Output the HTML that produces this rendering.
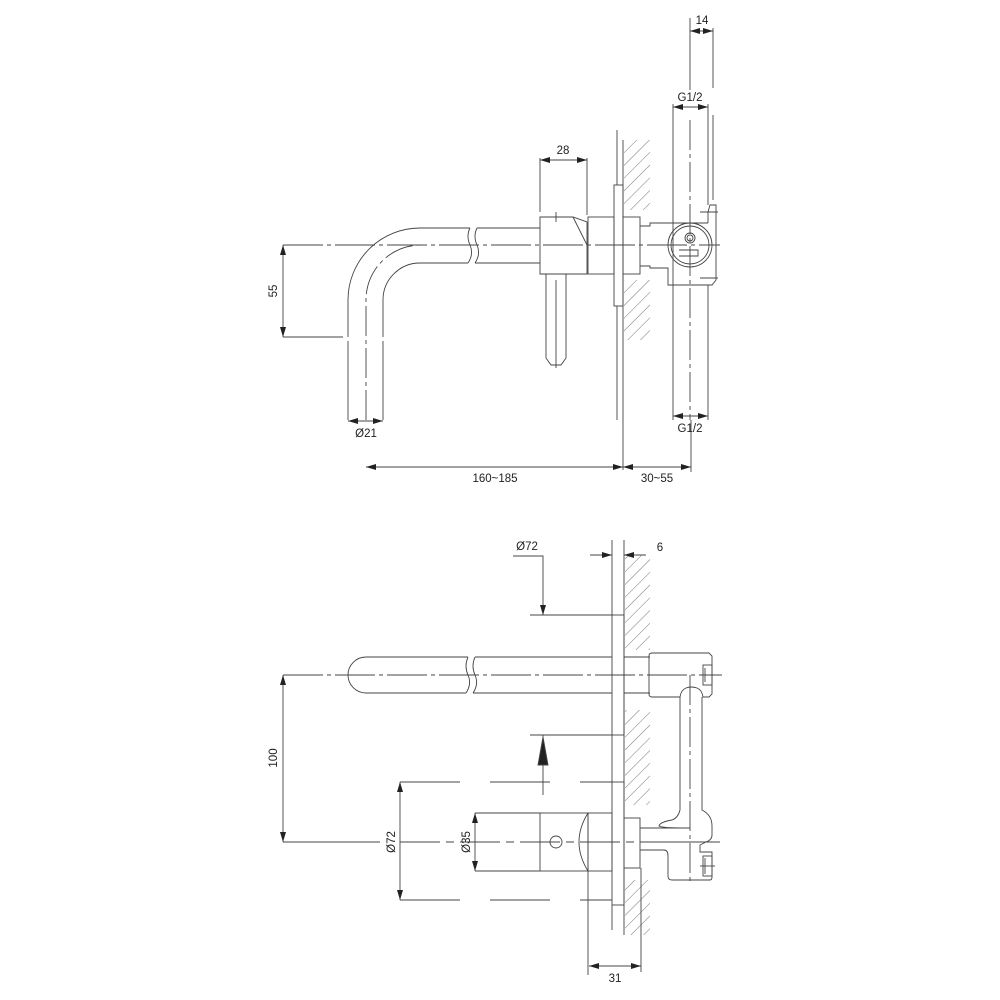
<!DOCTYPE html>
<html><head><meta charset="utf-8"><style>
html,body{margin:0;padding:0;background:#fff;}
svg{display:block}
text{font-family:"Liberation Sans",sans-serif;font-size:11.5px;fill:#222;}
</style></head><body>
<svg width="1000" height="1000" viewBox="0 0 1000 1000" xmlns="http://www.w3.org/2000/svg">
<defs>
<marker id="a" viewBox="0 0 10 6" refX="10" refY="3" markerWidth="10" markerHeight="6" orient="auto-start-reverse" markerUnits="userSpaceOnUse"><path d="M0,0L10,3L0,6z" fill="#222"/></marker>
<pattern id="h" width="9" height="9" patternUnits="userSpaceOnUse" patternTransform="rotate(45)"><line x1="0" y1="0" x2="0" y2="9" stroke="#555" stroke-width="0.8"/></pattern>
</defs>
<g fill="none" stroke="#444" stroke-width="0.9">
<!-- ===== TOP VIEW ===== -->
<rect x="624" y="140" width="26" height="70" fill="url(#h)" stroke="none"/>
<rect x="624" y="280" width="26" height="60" fill="url(#h)" stroke="none"/>
<line x1="623" y1="140" x2="623" y2="470"/>
<line x1="617" y1="130" x2="617" y2="185"/>
<line x1="617" y1="306" x2="617" y2="420"/>
<line x1="283" y1="245" x2="720" y2="245" stroke-dasharray="40,4,4,4"/>
<path d="M348,337 L348,300 A72,72 0 0 1 420,228 L470,228"/>
<path d="M383,337 L383,300 A37,37 0 0 1 420,263 L468,263"/>
<path d="M470,228 q-4,8 0,17 q4,9 -2,18"/>
<path d="M477,228 q-4,8 0,17 q4,9 -2,18"/>
<line x1="477" y1="228" x2="540" y2="228"/>
<line x1="475" y1="263" x2="540" y2="263"/>
<path d="M366,420 L366,300 A55,55 0 0 1 421,245" stroke-dasharray="30,4,4,4"/>
<line x1="348" y1="341" x2="348" y2="420"/>
<line x1="383" y1="341" x2="383" y2="420"/>
<path d="M540,217 L573,217 L587,222 L587,274 L540,274 Z"/>
<line x1="573" y1="217" x2="587" y2="245"/>
<line x1="556" y1="212" x2="556" y2="222"/>
<path d="M546,274 L546,358 L551,365 L561,365 L566,358 L566,274"/>
<line x1="556" y1="280" x2="556" y2="368"/>
<rect x="588" y="217" width="26" height="57"/>
<rect x="614" y="185" width="9" height="121"/>
<rect x="623" y="217" width="17" height="57"/>
<path d="M640,226 L650,226 L650,223 L708,223"/>
<path d="M640,266 L650,266 L650,268 L668,268 L668,285 L712,285 L716,280 L716,205 L710,205 L708,212 L708,223"/>
<circle cx="690" cy="245" r="22"/>
<circle cx="690" cy="245" r="19"/>
<circle cx="690" cy="238" r="5"/>
<circle cx="690" cy="238" r="3"/>
<path d="M679,250 L698,250 L698,256 L679,256"/>
<line x1="673" y1="104" x2="673" y2="420"/>
<line x1="708" y1="104" x2="708" y2="205"/>
<line x1="708" y1="285" x2="708" y2="420"/>
<line x1="690" y1="18" x2="690" y2="90"/>
<line x1="713" y1="28" x2="713" y2="88"/>
<line x1="713" y1="115" x2="713" y2="200"/>
<line x1="690" y1="120" x2="690" y2="420" stroke-dasharray="30,4,4,4"/>
<line x1="700" y1="212" x2="718" y2="212"/>
<line x1="700" y1="278" x2="718" y2="278"/>
<line x1="283" y1="337" x2="343" y2="337"/>
<line x1="283" y1="245" x2="283" y2="337" marker-start="url(#a)" marker-end="url(#a)"/>
<line x1="348" y1="421" x2="383" y2="421" marker-start="url(#a)" marker-end="url(#a)"/>
<line x1="366" y1="467" x2="623" y2="467" marker-start="url(#a)" marker-end="url(#a)"/>
<line x1="623" y1="467" x2="691" y2="467" marker-start="url(#a)" marker-end="url(#a)"/>
<line x1="691" y1="420" x2="691" y2="472"/>
<line x1="540" y1="158" x2="540" y2="212"/>
<line x1="587" y1="158" x2="587" y2="215"/>
<line x1="540" y1="160" x2="587" y2="160" marker-start="url(#a)" marker-end="url(#a)"/>
<line x1="673" y1="107" x2="708" y2="107" marker-start="url(#a)" marker-end="url(#a)"/>
<line x1="673" y1="416" x2="708" y2="416" marker-start="url(#a)" marker-end="url(#a)"/>
<line x1="690" y1="31" x2="713" y2="31" marker-start="url(#a)" marker-end="url(#a)"/>

<!-- ===== BOTTOM VIEW ===== -->
<rect x="625" y="555" width="25" height="95" fill="url(#h)" stroke="none"/>
<rect x="625" y="710" width="25" height="95" fill="url(#h)" stroke="none"/>
<rect x="625" y="880" width="25" height="55" fill="url(#h)" stroke="none"/>
<line x1="624" y1="540" x2="624" y2="935"/>
<line x1="612" y1="540" x2="612" y2="615"/>
<line x1="612" y1="735" x2="612" y2="782"/>
<line x1="612" y1="905" x2="612" y2="930"/>
<rect x="612" y="615" width="12" height="120"/>
<rect x="612" y="782" width="12" height="123"/>
<path d="M468,657 L366,657 A18,18 0 0 0 366,693 L466,693"/>
<path d="M468,657 q-4,9 0,18 q4,9 -2,18"/>
<path d="M475,657 q-4,9 0,18 q4,9 -2,18"/>
<line x1="475" y1="657" x2="612" y2="657"/>
<line x1="473" y1="693" x2="612" y2="693"/>
<line x1="624" y1="657" x2="650" y2="657"/>
<line x1="624" y1="693" x2="650" y2="693"/>
<line x1="283" y1="675" x2="722" y2="675" stroke-dasharray="40,4,4,4"/>
<!-- valve top body -->
<path d="M652,653 L709,653 L712,656 L712,694 L709,697 L703,697 Q702,690 697,688 Q691,686 686,688 Q681,690 680,697 L652,697 Q649,697 649,694 L649,656 Q649,653 652,653 Z"/>
<rect x="703" y="665" width="9" height="20"/>
<line x1="705" y1="668" x2="705" y2="682"/>
<!-- stem -->
<path d="M680,697 L680,810 Q678,818 672,820 Q660,822 659,826 Q662,828 685,828"/>
<path d="M702,697 L702,810 Q712,815 712,826 L712,835 Q712,840 706,842"/>
<line x1="690" y1="675" x2="690" y2="885" stroke-dasharray="30,4,4,4"/>
<!-- lower body -->
<path d="M640,850 L664,850 Q668,850 668,856 L668,876 Q668,880 672,880 L710,880 Q712,880 712,877 L712,852 L700,852 L700,845 L706,842"/>
<path d="M640,828 L690,828"/>
<path d="M670,842 L700,842"/>
<rect x="703" y="856" width="9" height="20"/>
<line x1="705" y1="858" x2="705" y2="874"/>
<line x1="700" y1="866" x2="715" y2="866"/>
<!-- lower handle -->
<rect x="540" y="813" width="48" height="58"/>
<path d="M588,813 Q570,842 588,871"/>
<circle cx="556" cy="842" r="6"/>
<rect x="588" y="813" width="24" height="58"/>
<rect x="624" y="818" width="16" height="50"/>
<line x1="588" y1="871" x2="588" y2="975"/>
<line x1="641" y1="868" x2="641" y2="972"/>
<line x1="400" y1="842" x2="720" y2="842" stroke-dasharray="40,6,8,6"/>
<line x1="400" y1="782" x2="612" y2="782" stroke-dasharray="60,30"/>
<line x1="400" y1="900" x2="612" y2="900" stroke-dasharray="60,30"/>
<line x1="475" y1="813" x2="540" y2="813"/>
<line x1="475" y1="871" x2="540" y2="871"/>
<line x1="530" y1="615" x2="612" y2="615"/>
<line x1="530" y1="735" x2="612" y2="735"/>
<line x1="283" y1="842" x2="380" y2="842"/>
<line x1="283" y1="675" x2="283" y2="842" marker-start="url(#a)" marker-end="url(#a)"/>
<line x1="400" y1="782" x2="400" y2="900" marker-start="url(#a)" marker-end="url(#a)"/>
<line x1="475" y1="813" x2="475" y2="871" marker-start="url(#a)" marker-end="url(#a)"/>
<polyline points="513,556 543,556 543,615" marker-end="url(#a)"/>
<line x1="543" y1="795" x2="543" y2="735"/>
<path d="M538,765 L543,737 L548,765 Z" fill="#222"/>
<line x1="590" y1="555" x2="612" y2="555" marker-end="url(#a)"/>
<line x1="646" y1="555" x2="624" y2="555" marker-end="url(#a)"/>
<line x1="589" y1="966" x2="641" y2="966" marker-start="url(#a)" marker-end="url(#a)"/>
</g>
<g>
<text x="563" y="154" text-anchor="middle">28</text>
<text x="702" y="24" text-anchor="middle">14</text>
<text x="690" y="101" text-anchor="middle">G1/2</text>
<text x="690" y="432" text-anchor="middle">G1/2</text>
<text x="366" y="437" text-anchor="middle">Ø21</text>
<text x="495" y="482" text-anchor="middle">160~185</text>
<text x="657" y="482" text-anchor="middle">30~55</text>
<text transform="translate(277,291) rotate(-90)" text-anchor="middle">55</text>
<text x="527" y="550" text-anchor="middle">Ø72</text>
<text x="660" y="551" text-anchor="middle">6</text>
<text x="615" y="982" text-anchor="middle">31</text>
<text transform="translate(277,758) rotate(-90)" text-anchor="middle">100</text>
<text transform="translate(395,842) rotate(-90)" text-anchor="middle">Ø72</text>
<text transform="translate(470,842) rotate(-90)" text-anchor="middle">Ø35</text>
</g>
</svg>
</body></html>
